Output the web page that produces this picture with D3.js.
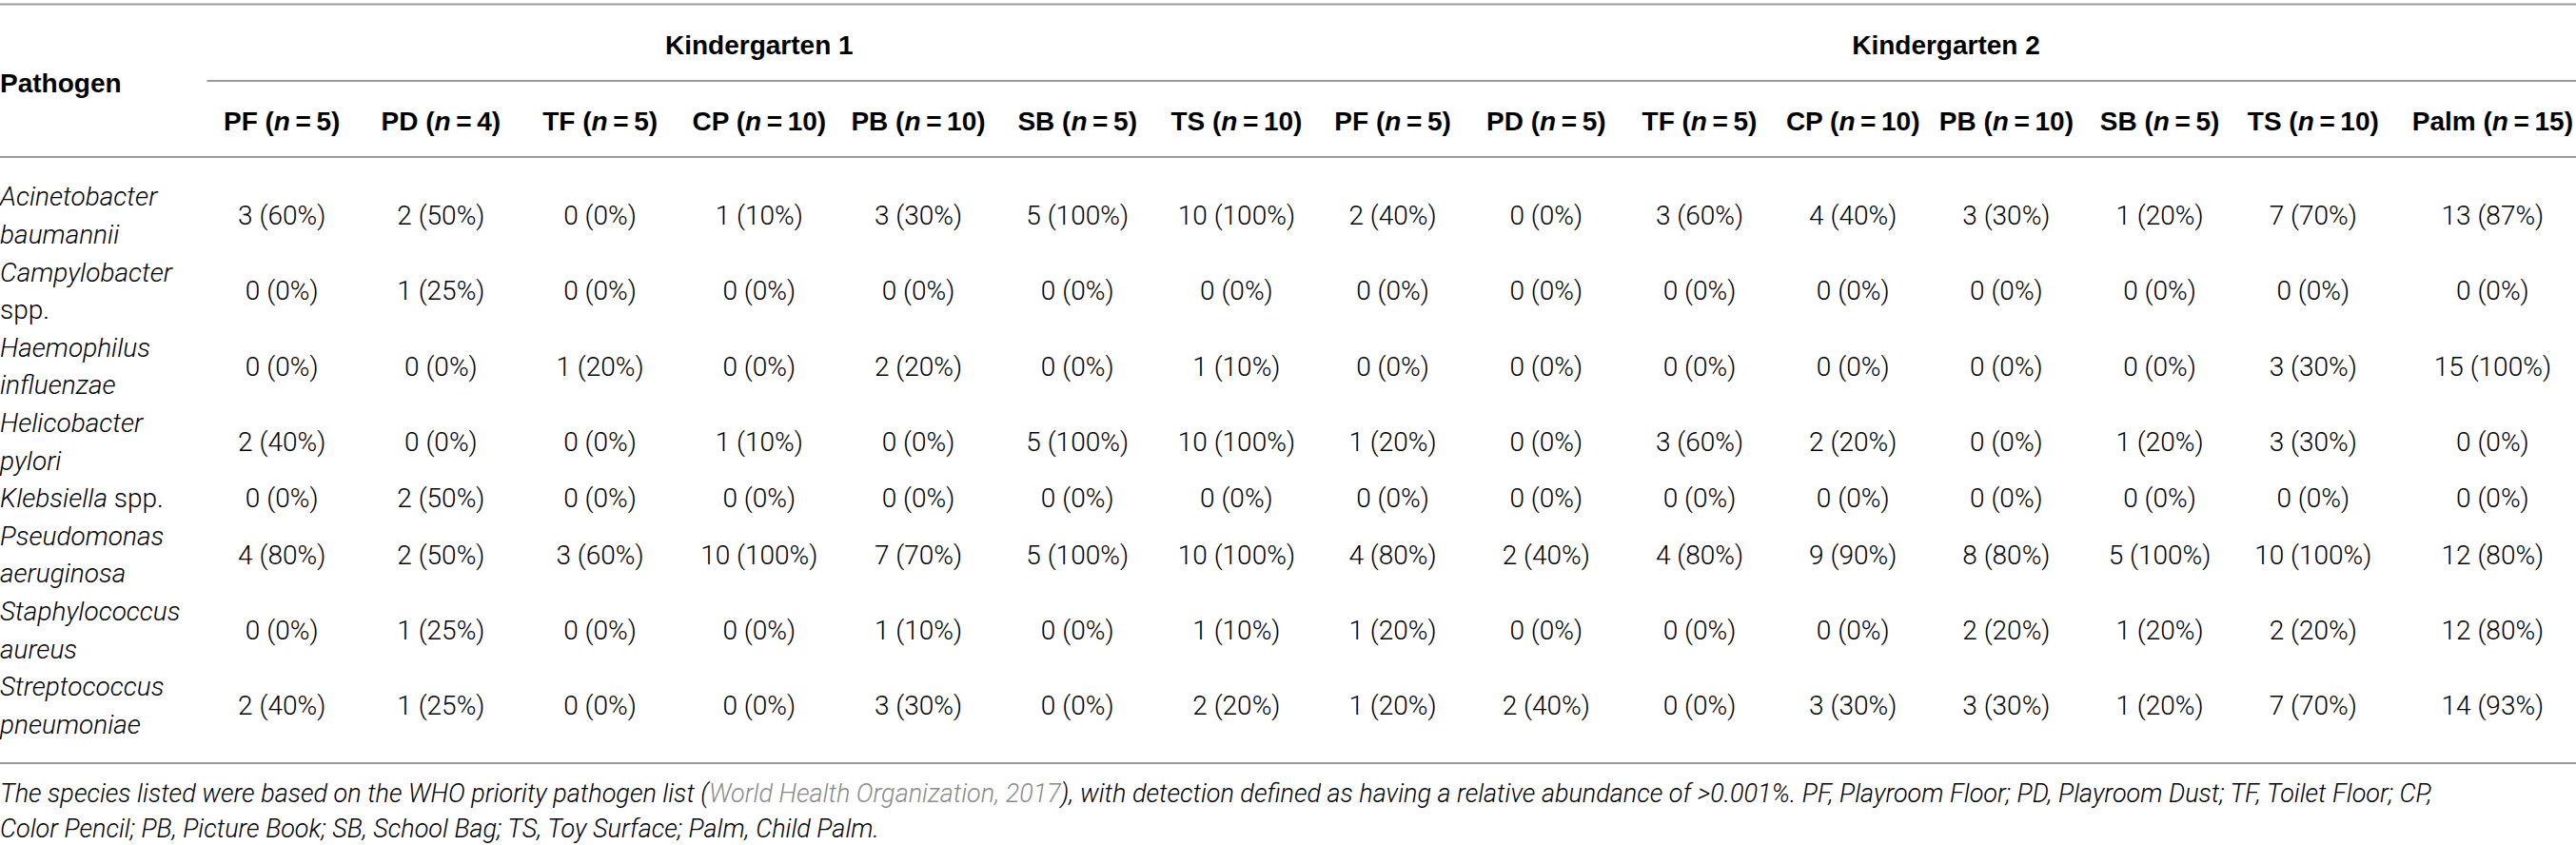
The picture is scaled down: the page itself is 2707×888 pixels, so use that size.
<!DOCTYPE html>
<html lang="en">
<head>
<meta charset="UTF-8">
<title>WHO priority pathogens in two kindergartens</title>
<script src="https://d3js.org/d3.v7.min.js"></script>
<style>
    body { margin: 0; background: #fff; }
    .head { font-family: "Liberation Sans", Arial, sans-serif; font-weight: 700; font-size: 28px; fill: #000; }
    .cell { font-family: Roboto, "Liberation Sans", sans-serif; font-weight: 300; font-size: 28px; fill: #000; }
    .note { font-family: Roboto, "Liberation Sans", sans-serif; font-weight: 300; font-style: italic; font-size: 27px; fill: #000; }
    .rule { stroke: #9a9a9a; stroke-width: 2; }
</style>
</head>
<body>
<svg width="2707" height="888"></svg>
<script>
const kindergartens = ["Kindergarten 1", "Kindergarten 2"];
const sites1 = ["PF", "PD", "TF", "CP", "PB", "SB", "TS"];
const sizes1 = [5, 4, 5, 10, 10, 5, 10];
const sites2 = ["PF", "PD", "TF", "CP", "PB", "SB", "TS", "Palm"];
const sizes2 = [5, 5, 5, 10, 10, 5, 10, 15];

const pathogens = [
    ["Acinetobacter", "baumannii"],
    ["Campylobacter", "spp."],
    ["Haemophilus", "influenzae"],
    ["Helicobacter", "pylori"],
    ["Klebsiella spp."],
    ["Pseudomonas", "aeruginosa"],
    ["Staphylococcus", "aureus"],
    ["Streptococcus", "pneumoniae"]
];

const counts1 = [
    [3, 2, 0, 1, 3, 5, 10],
    [0, 1, 0, 0, 0, 0, 0],
    [0, 0, 1, 0, 2, 0, 1],
    [2, 0, 0, 1, 0, 5, 10],
    [0, 2, 0, 0, 0, 0, 0],
    [4, 2, 3, 10, 7, 5, 10],
    [0, 1, 0, 0, 1, 0, 1],
    [2, 1, 0, 0, 3, 0, 2]
];
const counts2 = [
    [2, 0, 3, 4, 3, 1, 7, 13],
    [0, 0, 0, 0, 0, 0, 0, 0],
    [0, 0, 0, 0, 0, 0, 3, 15],
    [1, 0, 3, 2, 0, 1, 3, 0],
    [0, 0, 0, 0, 0, 0, 0, 0],
    [4, 2, 4, 9, 8, 5, 10, 12],
    [1, 0, 0, 0, 2, 1, 2, 12],
    [1, 2, 0, 3, 3, 1, 7, 14]
];

const noteLine1 = ["The species listed were based on the WHO priority pathogen list (",
    "World Health Organization, 2017",
    "), with detection defined as having a relative abundance of >0.001%. PF, Playroom Floor; PD, Playroom Dust; TF, Toilet Floor; CP,"];
const noteLine2 = "Color Pencil; PB, Picture Book; SB, School Bag; TS, Toy Surface; Palm, Child Palm.";

// layout
const W = 2707;
const firstColW = 212.6;
const colW1 = 167.2, colW2 = 161.2, palmW = 216;
const ruleTop = 4.5, ruleGroup = 85, ruleHead = 165, ruleBottom = 802;

const columns = sites1.map((s, i) => ({group: 0, site: s, n: sizes1[i], idx: i}))
    .concat(sites2.map((s, i) => ({group: 1, site: s, n: sizes2[i], idx: i})));
const widths = columns.map(c => c.group === 0 ? colW1 : (c.site === "Palm" ? palmW : colW2));
const edges = [firstColW].concat(Array.from(d3.cumsum(widths), v => v + firstColW));
const x = d3.scaleOrdinal()
    .domain(columns.map((c, i) => i))
    .range(columns.map((c, i) => (edges[i] + edges[i + 1]) / 2));

const groupSpan = [[firstColW, edges[7]], [edges[7], W]];

// each name line is one text line of the body
const lineCount = d3.sum(pathogens, p => p.length);
const y = d3.scaleLinear().domain([0, lineCount]).range([ruleHead + 21.4, ruleBottom - 21.4]);

const svg = d3.select("svg");

// rules
svg.selectAll("line.full")
    .data([ruleTop, ruleHead, ruleBottom])
    .enter()
    .append("line")
    .attr("class", "rule full")
    .attr("x1", 0).attr("x2", W)
    .attr("y1", d => d).attr("y2", d => d);

svg.append("line")
    .attr("class", "rule")
    .attr("x1", firstColW + 5).attr("x2", W)
    .attr("y1", ruleGroup).attr("y2", ruleGroup);

// header
svg.append("text")
    .attr("class", "head")
    .attr("x", 0)
    .attr("y", (ruleTop + ruleHead) / 2 + 2)
    .attr("dy", "0.36em")
    .text("Pathogen");

svg.selectAll("text.group")
    .data(kindergartens)
    .enter()
    .append("text")
    .attr("class", "head group")
    .attr("text-anchor", "middle")
    .attr("x", (d, i) => (groupSpan[i][0] + groupSpan[i][1]) / 2)
    .attr("y", (ruleTop + ruleGroup) / 2 + 2)
    .attr("dy", "0.36em")
    .text(d => d);

const sub = svg.selectAll("text.site")
    .data(columns)
    .enter()
    .append("text")
    .attr("class", "head site")
    .attr("text-anchor", "middle")
    .attr("x", (d, i) => x(i))
    .attr("y", (ruleGroup + ruleHead) / 2 + 2)
    .attr("dy", "0.36em");
sub.append("tspan").text(d => d.site + " (");
sub.append("tspan").style("font-style", "italic").text("n");
sub.append("tspan").text(d => "\u2009=\u2009" + d.n + ")");

// body rows
let start = 0;
const rows = pathogens.map((p, r) => {
    const row = {lines: p, first: start, r: r};
    start += p.length;
    return row;
});

rows.forEach(row => {
    row.lines.forEach((line, k) => {
        const t = svg.append("text")
            .attr("class", "cell")
            .attr("x", 0)
            .attr("y", y(row.first + k + 0.5))
            .attr("dy", "0.36em");
        line.split(" ").forEach((word, w) => {
            t.append("tspan")
                .style("font-style", word === "spp." ? "normal" : "italic")
                .text((w > 0 ? " " : "") + word);
        });
    });

    const yc = y(row.first + row.lines.length / 2);
    const vals = counts1[row.r].concat(counts2[row.r]);
    svg.selectAll("text.v" + row.r)
        .data(vals)
        .enter()
        .append("text")
        .attr("class", "cell v" + row.r)
        .attr("text-anchor", "middle")
        .attr("x", (d, i) => x(i))
        .attr("y", yc)
        .attr("dy", "0.36em")
        .text((d, i) => d + " (" + Math.round(d / columns[i].n * 100) + "%)");
});

// footnote
const n1 = svg.append("text")
    .attr("class", "note")
    .attr("x", 0)
    .attr("y", 833)
    .attr("dy", "0.36em");
n1.append("tspan").text(noteLine1[0]);
n1.append("tspan").style("fill", "#8a8a8a").text(noteLine1[1]);
n1.append("tspan").text(noteLine1[2]);

svg.append("text")
    .attr("class", "note")
    .attr("x", 0)
    .attr("y", 870)
    .attr("dy", "0.36em")
    .text(noteLine2);
</script>
</body>
</html>
